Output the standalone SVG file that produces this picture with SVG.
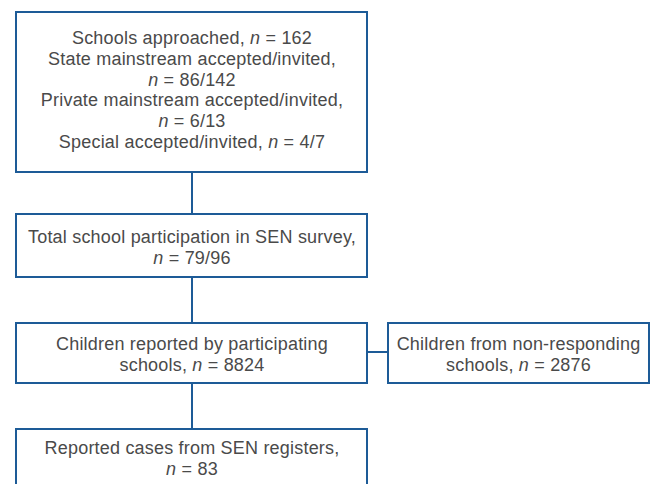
<svg xmlns="http://www.w3.org/2000/svg" width="651" height="484" viewBox="0 0 651 484">
<style>
.box{fill:#fff;stroke:#1d5b97;stroke-width:2}
.ln{stroke:#1d5b97;stroke-width:2;fill:none}
text{font-family:"Liberation Sans","Open Sans",sans-serif;font-size:18px;letter-spacing:0.2px;fill:#4a4a4a;text-anchor:middle}
.i{font-style:italic}
</style>
<rect width="651" height="484" fill="#fff"/>
<g id="connectors">
<line class="ln" x1="192" y1="172" x2="192" y2="214"/>
<line class="ln" x1="192" y1="277" x2="192" y2="323"/>
<line class="ln" x1="192" y1="383" x2="192" y2="429"/>
<line class="ln" x1="367" y1="352" x2="388" y2="352"/>
</g>
<g id="n1">
<rect class="box" x="16" y="12" width="351" height="160"/>
<text x="192" y="44">Schools approached, <tspan class="i">n</tspan> = 162</text>
<text x="192" y="65">State mainstream accepted/invited,</text>
<text x="192" y="86"><tspan class="i">n</tspan> = 86/142</text>
<text x="192" y="106">Private mainstream accepted/invited,</text>
<text x="192" y="127"><tspan class="i">n</tspan> = 6/13</text>
<text x="192" y="148">Special accepted/invited, <tspan class="i">n</tspan> = 4/7</text>
</g>
<g id="n2">
<rect class="box" x="16" y="214" width="351" height="63"/>
<text x="192" y="243">Total school participation in SEN survey,</text>
<text x="192" y="264"><tspan class="i">n</tspan> = 79/96</text>
</g>
<g id="n3">
<rect class="box" x="16" y="323" width="351" height="60"/>
<text x="192" y="350">Children reported by participating</text>
<text x="192" y="371">schools, <tspan class="i">n</tspan> = 8824</text>
</g>
<g id="n4">
<rect class="box" x="388" y="323" width="261" height="60"/>
<text x="518.5" y="350">Children from non-responding</text>
<text x="518.5" y="371">schools, <tspan class="i">n</tspan> = 2876</text>
</g>
<g id="n5">
<rect class="box" x="16" y="429" width="351" height="70"/>
<text x="192" y="454">Reported cases from SEN registers,</text>
<text x="192" y="475"><tspan class="i">n</tspan> = 83</text>
</g>
</svg>
